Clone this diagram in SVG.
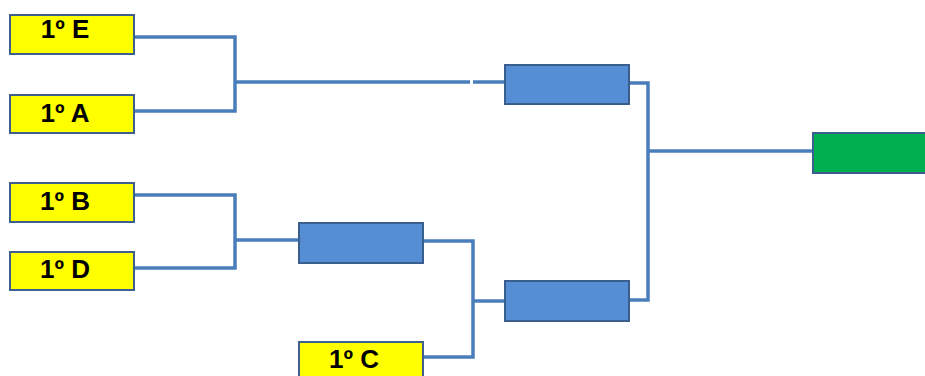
<svg xmlns="http://www.w3.org/2000/svg" width="925" height="376" viewBox="0 0 925 376">
<style>
.team{fill:#ffff00;stroke:#3f5f8f;stroke-width:2}
.match{fill:#558ed5;stroke:#3a5f8e;stroke-width:2}
.final{fill:#00b050;stroke:#3a5f8e;stroke-width:2}
.lbl{font-family:"Liberation Sans",Arial,sans-serif;font-weight:bold;font-size:26px;fill:#000;text-anchor:middle}
.con{fill:none;stroke:#4a7ebb;stroke-width:3.5}
</style>
<rect width="925" height="376" fill="#fff"/>
<g id="connectors">
<path class="con" d="M134,37 H235 V111 H134"/>
<path class="con" d="M235,82 H470 M473,82 H505"/>
<path class="con" d="M134,195 H235 V268 H134"/>
<path class="con" d="M235,240 H299"/>
<path class="con" d="M423,241 H473 V357 H423"/>
<path class="con" d="M473,301 H505"/>
<path class="con" d="M629,83 H648 V300 H629"/>
<path class="con" d="M648,151 H813"/>
</g>
<g id="team-E"><rect class="team" x="10" y="15" width="124" height="39"/><text class="lbl" x="65" y="38">1º E</text></g>
<g id="team-A"><rect class="team" x="10" y="95" width="124" height="38"/><text class="lbl" x="65" y="122">1º A</text></g>
<g id="team-B"><rect class="team" x="10" y="183" width="124" height="39"/><text class="lbl" x="65" y="210">1º B</text></g>
<g id="team-D"><rect class="team" x="10" y="252" width="124" height="38"/><text class="lbl" x="65" y="278">1º D</text></g>
<g id="team-C"><rect class="team" x="299" y="342" width="124" height="40"/><text class="lbl" x="354" y="368">1º C</text></g>
<g id="match-BD"><rect class="match" x="299" y="223" width="124" height="40"/></g>
<g id="semi-top"><rect class="match" x="505" y="65" width="124" height="39"/></g>
<g id="semi-bottom"><rect class="match" x="505" y="281" width="124" height="40"/></g>
<g id="final"><rect class="final" x="813" y="133" width="114" height="40"/></g>
</svg>
